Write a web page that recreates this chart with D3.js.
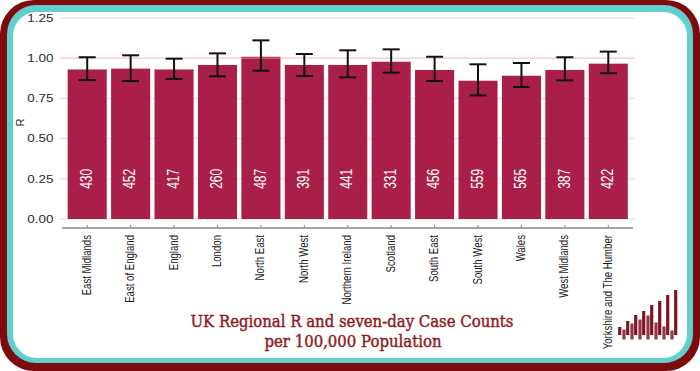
<!DOCTYPE html>
<html>
<head>
<meta charset="utf-8">
<script src="https://cdn.jsdelivr.net/npm/d3@7"></script>
<style>
  html, body { margin: 0; padding: 0; background: #fff; }
  svg { display: block; }
</style>
</head>
<body>
<div id="chart"></div>
<script>
const regions = ['East Midlands', 'East of England', 'England', 'London', 'North East', 'North West',
  'Northern Ireland', 'Scotland', 'South East', 'South West', 'Wales', 'West Midlands', 'Yorkshire and The Humber'];
const rValues = [0.93, 0.935, 0.93, 0.958, 1.009, 0.958, 0.958, 0.978, 0.927, 0.86, 0.891, 0.927, 0.966];
const rLower = [0.864, 0.858, 0.871, 0.887, 0.922, 0.889, 0.881, 0.91, 0.858, 0.769, 0.821, 0.862, 0.906];
const rUpper = [1.006, 1.018, 0.997, 1.03, 1.111, 1.026, 1.049, 1.055, 1.009, 0.962, 0.97, 1.006, 1.041];
const caseCounts = [430, 452, 417, 260, 487, 391, 441, 331, 456, 559, 565, 387, 422];
const yTicks = [0, 0.25, 0.5, 0.75, 1.0, 1.25];
const titleLines = ['UK Regional R and seven-day Case Counts', 'per 100,000 Population'];
// little logo in the corner
const logoTall = [8, 14, 20, 24, 30, 34, 40, 45];
const logoShort = [10, 16, 20, 24, 17, 13, 9];

const W = 700, H = 371;
const BAR = '#a91f47';
const DARK = '#7d0b0d';
const TEAL = '#62cfcf';

const rows = regions.map((name, i) => ({
  name, r: rValues[i], lo: rLower[i], hi: rUpper[i], cases: caseCounts[i]
}));

const svg = d3.select('#chart').append('svg')
  .attr('width', W).attr('height', H);

// frame
svg.append('rect').attr('x', 0).attr('y', 0).attr('width', W).attr('height', H)
  .attr('rx', 34).attr('fill', DARK);
svg.append('rect').attr('x', 7).attr('y', 5).attr('width', 686).attr('height', 358)
  .attr('rx', 29).attr('fill', TEAL);
svg.append('rect').attr('x', 13).attr('y', 12).attr('width', 674).attr('height', 346)
  .attr('rx', 24).attr('fill', '#fff');

const x = d3.scaleBand().domain(regions)
  .range([65.5, 630]).paddingInner(0.1).paddingOuter(0.05);
const y = d3.scaleLinear().domain([0, 1.25]).range([219, 18]);

// gridlines
svg.append('g').selectAll('line')
  .data(yTicks.filter(d => d !== 1))
  .enter().append('line')
  .attr('x1', 60).attr('x2', 635)
  .attr('y1', d => y(d)).attr('y2', d => y(d))
  .attr('stroke', '#dcdcdc').attr('stroke-width', 1);

// bars
svg.append('g').selectAll('rect')
  .data(rows).enter().append('rect')
  .attr('x', d => x(d.name))
  .attr('y', d => y(d.r))
  .attr('width', x.bandwidth())
  .attr('height', d => y(0) - y(d.r))
  .attr('fill', BAR);

// R = 1 reference
svg.append('line')
  .attr('x1', 60).attr('x2', 635)
  .attr('y1', y(1)).attr('y2', y(1))
  .attr('stroke', '#f2a0a0').attr('stroke-opacity', 0.6).attr('stroke-width', 1.2);

// case counts inside bars
svg.append('g').selectAll('text')
  .data(rows).enter().append('text')
  .attr('transform', d => `translate(${x(d.name) + x.bandwidth() / 2 - 1},${y(0.25)}) rotate(-90) scale(0.75,1)`)
  .attr('text-anchor', 'middle')
  .attr('dominant-baseline', 'central')
  .attr('font-family', 'Liberation Sans, Arial, sans-serif')
  .attr('font-size', 16)
  .attr('fill', '#fff')
  .text(d => d.cases);

// error bars
const cap = 8.5;
const err = svg.append('g').attr('stroke', '#111').attr('stroke-width', 2).attr('fill', 'none');
rows.forEach(d => {
  const cx = x(d.name) + x.bandwidth() / 2;
  err.append('line').attr('x1', cx).attr('x2', cx).attr('y1', y(d.lo)).attr('y2', y(d.hi));
  err.append('line').attr('x1', cx - cap).attr('x2', cx + cap).attr('y1', y(d.hi)).attr('y2', y(d.hi));
  err.append('line').attr('x1', cx - cap).attr('x2', cx + cap).attr('y1', y(d.lo)).attr('y2', y(d.lo));
});

// y axis
const yAxis = svg.append('g')
  .attr('transform', 'translate(53.5,0)')
  .call(d3.axisLeft(y).tickValues(yTicks).tickFormat(d3.format('.2f')).tickSize(0));
yAxis.select('.domain').remove();
yAxis.selectAll('text')
  .attr('x', 0).attr('dy', null)
  .attr('dominant-baseline', 'central')
  .attr('transform', 'scale(1.35,1)')
  .attr('font-family', 'Liberation Sans, Arial, sans-serif')
  .attr('font-size', 10)
  .attr('fill', '#2a2a2a');

svg.append('text')
  .attr('transform', `translate(20,${y(0.6)}) rotate(-90)`)
  .attr('text-anchor', 'middle')
  .attr('dominant-baseline', 'central')
  .attr('font-family', 'Liberation Sans, Arial, sans-serif')
  .attr('font-size', 11)
  .attr('fill', '#333')
  .text('R');

// x axis
const xAxis = svg.append('g')
  .attr('transform', 'translate(0,228)')
  .call(d3.axisBottom(x).tickSize(-3).tickSizeOuter(0));
xAxis.select('.domain')
  .attr('d', 'M62,0H633')
  .attr('stroke', '#888').attr('stroke-width', 1.3);
xAxis.selectAll('.tick line').attr('stroke', '#888');
xAxis.selectAll('text')
  .attr('y', 0).attr('dy', null)
  .attr('text-anchor', 'end')
  .attr('dominant-baseline', 'central')
  .attr('transform', 'translate(-1,7) rotate(-90) scale(0.74,1)')
  .attr('font-family', 'Liberation Sans, Arial, sans-serif')
  .attr('font-size', 13)
  .attr('fill', '#1a1a1a');

// title
const title = svg.append('g')
  .attr('font-family', 'DejaVu Serif, serif')
  .attr('fill', '#8e1b1f')
  .attr('stroke', '#8e1b1f')
  .attr('stroke-width', 0.45)
  .attr('text-anchor', 'middle');
title.append('text').attr('x', 352).attr('y', 327)
  .attr('font-size', 16)
  .attr('textLength', 323).attr('lengthAdjust', 'spacingAndGlyphs')
  .text(titleLines[0]);
title.append('text').attr('x', 353).attr('y', 347)
  .attr('font-size', 16)
  .attr('textLength', 177).attr('lengthAdjust', 'spacingAndGlyphs')
  .text(titleLines[1]);

// logo
const lh = d3.scaleLinear().domain([0, 45]).range([0, 45]);
const logo = svg.append('g').attr('stroke', '#7c1621').attr('stroke-width', 3.2);
logoTall.forEach((h, i) => {
  const lx = 619.7 + i * 8;
  logo.append('line').attr('x1', lx).attr('x2', lx).attr('y1', 335).attr('y2', 335 - lh(h));
});
logoShort.forEach((h, i) => {
  const lx = 624 + i * 8;
  logo.append('line').attr('x1', lx).attr('x2', lx).attr('y1', 339.5).attr('y2', 339.5 - lh(h))
    .attr('stroke-opacity', 0.85);
});
</script>
</body>
</html>
